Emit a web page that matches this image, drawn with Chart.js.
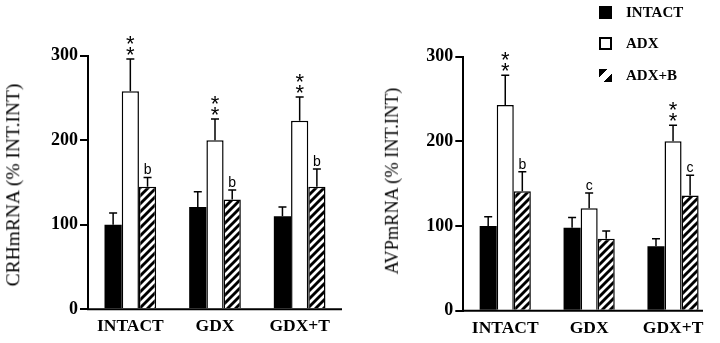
<!DOCTYPE html>
<html>
<head>
<meta charset="utf-8">
<script src="https://cdn.jsdelivr.net/npm/chart.js@4"></script>
<style>
  body { margin: 0; background: #fff; }
  #wrap { position: relative; width: 720px; height: 343px; overflow: hidden; }
  canvas { position: absolute; top: 0; }
  .ytitle { position: absolute; transform: translate(-50%, -50%) rotate(-90deg); white-space: nowrap; font-family: "Liberation Serif", serif; color: #000; line-height: 1; }
  .row { position: absolute; left: 599px; height: 13px; display: flex; align-items: center; white-space: nowrap; font: bold 15px "Liberation Serif", serif; color: #000; }
  .sw { width: 13px; height: 13px; box-sizing: border-box; margin-right: 14px; }
</style>
</head>
<body>
<div id="wrap">
  <canvas id="crh" width="360" height="343" style="left:0"></canvas>
  <canvas id="avp" width="360" height="343" style="left:360px"></canvas>
  <div class="ytitle" style="left:12.5px; top:185px; font-size:19.5px">CRHmRNA (% INT.INT)</div>
  <div class="ytitle" style="left:391.5px; top:181px; font-size:18.3px">AVPmRNA (% INT.INT)</div>
  <div class="row" style="top:5.5px"><div class="sw" style="background:#000"></div><span id="lg0"></span></div>
  <div class="row" style="top:36.5px"><div class="sw" style="border:2px solid #000; background:#fff"></div><span id="lg1"></span></div>
  <div class="row" style="top:68.5px"><div class="sw" style="background:linear-gradient(135deg, #000 0 34%, #fff 34% 66%, #000 66% 100%)"></div><span id="lg2"></span></div>
</div>
<script>
const groups = ["INTACT", "GDX", "GDX+T"];
const treatments = ["INTACT", "ADX", "ADX+B"];
const yTicks = [0, 100, 200, 300];

// CRH panel: bar means and top of error bar
const crhIntact = [100, 121, 110];
const crhIntactErr = [114, 139, 121];
const crhAdx = [258, 200, 223];
const crhAdxErr = [296, 225, 251];
const crhAdxB = [145, 130, 145];
const crhAdxBErr = [156, 141, 166];
const crhAdxMarks = ["**", "**", "**"];
const crhAdxBMarks = ["b", "b", "b"];

// AVP panel
const avpIntact = [100, 98, 76];
const avpIntactErr = [111, 110, 85];
const avpAdx = [243, 121, 200];
const avpAdxErr = [278, 139, 219];
const avpAdxB = [141, 85, 136];
const avpAdxBErr = [164, 94, 160];
const avpAdxMarks = ["**", "c", "**"];
const avpAdxBMarks = ["b", "", "c"];

treatments.forEach((t, i) => { document.getElementById("lg" + i).textContent = t; });

function makeHatch() {
  const p = document.createElement("canvas");
  p.width = 8; p.height = 8;
  const c = p.getContext("2d");
  c.fillStyle = "#fff";
  c.fillRect(0, 0, 8, 8);
  c.strokeStyle = "#000";
  c.lineWidth = 2.9;
  c.beginPath();
  [0, 8, 16].forEach(k => { c.moveTo(-2, k + 2); c.lineTo(k + 2, -2); });
  c.stroke();
  return c.createPattern(p, "repeat");
}
const hatch = makeHatch();

const errorBars = {
  id: "errorBars",
  afterDatasetsDraw(chart) {
    const ctx = chart.ctx;
    const y = chart.scales.y;
    ctx.save();
    ctx.strokeStyle = "#000";
    ctx.fillStyle = "#000";
    ctx.lineWidth = 1.5;
    chart.data.datasets.forEach((ds, d) => {
      chart.getDatasetMeta(d).data.forEach((bar, i) => {
        const top = y.getPixelForValue(ds.errTop[i]);
        ctx.beginPath();
        ctx.moveTo(bar.x, bar.y);
        ctx.lineTo(bar.x, top);
        ctx.moveTo(bar.x - 4, top);
        ctx.lineTo(bar.x + 4, top);
        ctx.stroke();
        const mark = ds.marks ? ds.marks[i] : "";
        ctx.textAlign = "center";
        ctx.textBaseline = "alphabetic";
        if (mark === "**") {
          ctx.font = "22px 'Liberation Sans'";
          ctx.fillText("*", bar.x, top + 2.5);
          ctx.fillText("*", bar.x, top - 8.5);
        } else if (mark) {
          ctx.font = "14px 'Liberation Sans'";
          ctx.fillText(mark, bar.x, top - 3);
        }
      });
    });
    ctx.restore();
  }
};

const xLine = {
  id: "xLine",
  afterDraw(chart, args, opts) {
    const a = chart.chartArea;
    const ctx = chart.ctx;
    ctx.save();
    ctx.strokeStyle = "#000";
    ctx.lineWidth = 2;
    ctx.beginPath();
    ctx.moveTo(a.left - 1, a.bottom);
    ctx.lineTo(a.right - (opts.trim || 0), a.bottom);
    ctx.stroke();
    ctx.restore();
  }
};

function sets(a, aErr, b, bErr, bMarks, c, cErr, cMarks) {
  return [
    { label: treatments[0], data: a, errTop: aErr, backgroundColor: "#000", borderColor: "#000", borderWidth: 0 },
    { label: treatments[1], data: b, errTop: bErr, marks: bMarks, backgroundColor: "#fff", borderColor: "#000", borderWidth: 1.5 },
    { label: treatments[2], data: c, errTop: cErr, marks: cMarks, backgroundColor: hatch, borderColor: "#000", borderWidth: 1.5 }
  ].map(d => Object.assign(d, { categoryPercentage: 0.61, barPercentage: 1 }));
}

function makeChart(id, datasets, o) {
  return new Chart(document.getElementById(id), {
    type: "bar",
    data: { labels: groups, datasets: datasets },
    options: {
      responsive: false,
      animation: false,
      layout: { padding: { top: o.top, right: o.right, left: 0, bottom: 0 } },
      plugins: { legend: { display: false }, tooltip: { enabled: false }, xLine: { trim: o.trim } },
      scales: {
        x: {
          grid: { display: false, drawTicks: false },
          border: { display: false },
          ticks: { color: "#000", padding: 7, font: { family: "Liberation Serif", weight: "bold", size: 17.5 } },
          afterFit: s => { s.height = o.xh; }
        },
        y: {
          min: 0,
          max: 300,
          afterBuildTicks: s => { s.ticks = yTicks.map(v => ({ value: v })); },
          grid: { drawOnChartArea: false, drawTicks: true, tickLength: 8, color: "#000", lineWidth: 2 },
          border: { color: "#000", width: 2 },
          ticks: { color: "#000", padding: 2, font: { family: "Liberation Serif", weight: "bold", size: 18 } },
          afterFit: s => { s.width = o.yw; }
        }
      }
    },
    plugins: [errorBars, xLine]
  });
}

makeChart("crh",
  sets(crhIntact, crhIntactErr, crhAdx, crhAdxErr, crhAdxMarks, crhAdxB, crhAdxBErr, crhAdxBMarks),
  { top: 55.7, right: 18, yw: 88, xh: 33.7, trim: 0 });
makeChart("avp",
  sets(avpIntact, avpIntactErr, avpAdx, avpAdxErr, avpAdxMarks, avpAdxB, avpAdxBErr, avpAdxBMarks),
  { top: 56.7, right: 5, yw: 103.3, xh: 32.3, trim: 12 });
</script>
</body>
</html>
